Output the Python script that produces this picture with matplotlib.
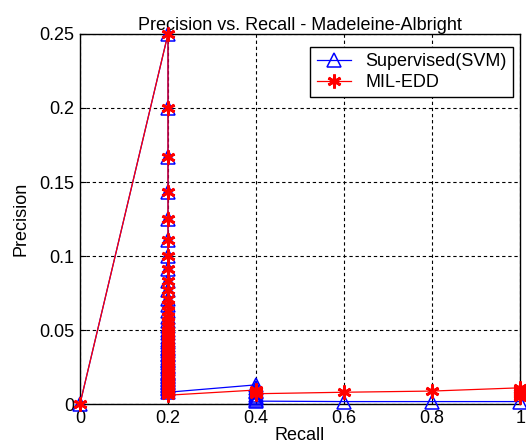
import matplotlib
matplotlib.use('Agg')
import matplotlib.pyplot as plt

# Precision / recall points
svm_recall = [0.0] + [0.2] * 48 + [0.4] * 9 + [0.6, 0.8, 1.0]
svm_precision = [0.0,
                 0.25, 0.2, 0.167, 0.143, 0.125, 0.111, 0.1, 0.091, 0.083, 0.077,
                 0.071, 0.067, 0.063, 0.059, 0.056, 0.053, 0.05, 0.048, 0.045, 0.043,
                 0.042, 0.04, 0.038, 0.037, 0.036, 0.034, 0.033, 0.031, 0.03, 0.029,
                 0.028, 0.026, 0.025, 0.024, 0.022, 0.021, 0.02, 0.019, 0.018, 0.017,
                 0.016, 0.015, 0.014, 0.013, 0.012, 0.011, 0.010, 0.008,
                 0.013, 0.011, 0.009, 0.008, 0.006, 0.005, 0.004, 0.003, 0.002,
                 0.0017, 0.0017, 0.0017]

edd_recall = [0.0] + [0.2] * 51 + [0.4] * 3 + [0.6, 0.8] + [1.0] * 6
edd_precision = [0.0,
                 0.25, 0.2, 0.167, 0.143, 0.125, 0.111, 0.1, 0.091, 0.083, 0.077,
                 0.071, 0.067, 0.063, 0.059, 0.056, 0.053, 0.05, 0.048, 0.045, 0.043,
                 0.042, 0.04, 0.038, 0.037, 0.036, 0.034, 0.033, 0.031, 0.03, 0.029,
                 0.028, 0.026, 0.025, 0.024, 0.022, 0.021, 0.02, 0.019, 0.018, 0.017,
                 0.016, 0.015, 0.014, 0.013, 0.012, 0.011, 0.010, 0.009, 0.008, 0.007,
                 0.006,
                 0.0095, 0.008, 0.007,
                 0.008, 0.0088,
                 0.011, 0.0095, 0.008, 0.007, 0.006, 0.005]

plt.rcParams['font.family'] = ['Liberation Sans', 'DejaVu Sans']
plt.rcParams['font.size'] = 13

fig = plt.figure(figsize=(5.26, 4.47), dpi=100)
ax = fig.add_axes([0.152, 0.096, 0.837, 0.828])

ax.plot(svm_recall, svm_precision, color='blue', lw=0.9, marker='^',
        markersize=10, markerfacecolor='none', markeredgecolor='blue',
        markeredgewidth=1.1, label='Supervised(SVM)', clip_on=False, zorder=3)
ax.plot(edd_recall, edd_precision, color='red', lw=0.9, marker=(6, 2, 0),
        markersize=10, markeredgecolor='red', markeredgewidth=2,
        label='MIL-EDD', clip_on=False, zorder=4)

ax.set_xlim(0, 1)
ax.set_ylim(0, 0.25)
ax.set_xticks([0, 0.2, 0.4, 0.6, 0.8, 1])
ax.set_xticklabels(['0', '0.2', '0.4', '0.6', '0.8', '1'])
ax.set_yticks([0, 0.05, 0.1, 0.15, 0.2, 0.25])
ax.set_yticklabels(['0', '0.05', '0.1', '0.15', '0.2', '0.25'])
ax.grid(True, color='black', linestyle=(0, (3, 2.5)), linewidth=0.8)
ax.tick_params(direction='in', length=4, pad=4)
for s in ax.spines.values():
    s.set_linewidth(1)

ax.set_title('Precision vs. Recall - Madeleine-Albright', fontsize=13, pad=3)
ax.set_xlabel('Recall', labelpad=0)
ax.set_ylabel('Precision', labelpad=7)

leg = ax.legend(loc='upper right', bbox_to_anchor=(0.984, 0.965), borderaxespad=0,
                fancybox=False, framealpha=1, edgecolor='black', borderpad=0.35,
                handlelength=1.9, handletextpad=0.8, labelspacing=0.2, fontsize=13)
leg.get_frame().set_linewidth(1)
leg.set_zorder(5)

fig.savefig('out.png', dpi=100)
